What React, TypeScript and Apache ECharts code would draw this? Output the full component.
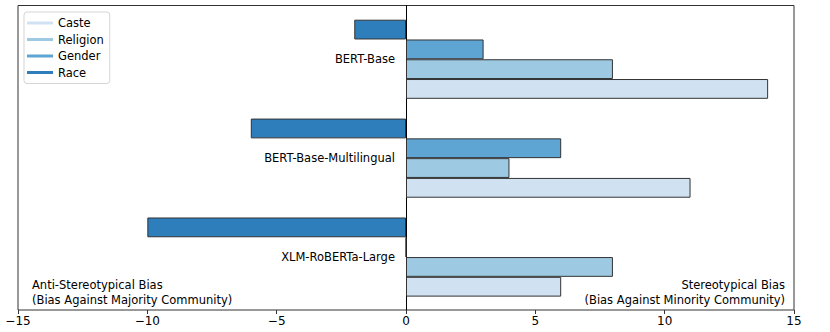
import React, { useEffect, useRef } from "react";
import * as echarts from "echarts";

const models = ["BERT-Base", "BERT-Base-Multilingual", "XLM-RoBERTa-Large"];
const seriesNames = ["Race", "Gender", "Religion", "Caste"];
const race = [-2, -6, -10];
const gender = [3, 6, 0];
const religion = [8, 4, 8];
const caste = [14, 11, 6];
const legendOrder = ["Caste", "Religion", "Gender", "Race"];
const seriesValues = [race, gender, religion, caste];
const seriesColors = ["#2f7ebc", "#5fa5d3", "#9dcae2", "#d0e1f2"];

const FONT = "DejaVu Sans";
const GRID_LEFT = 18;
const GRID_WIDTH = 776;
const ZERO_X = GRID_LEFT + GRID_WIDTH / 2;

export default function App() {
  const ref = useRef<HTMLDivElement>(null);
  useEffect(() => {
    document.body.style.margin = "0";
    const chart = echarts.init(ref.current!, null, { renderer: "svg" });
    const option: any = {
      animation: false,
      textStyle: { fontFamily: FONT },
      grid: [
        { left: GRID_LEFT, top: 5.5, width: GRID_WIDTH, height: 304.5, show: true, borderColor: "#333", borderWidth: 1, backgroundColor: "transparent", outerBoundsMode: "none", containLabel: false },
        { left: GRID_LEFT, top: 9.8, width: GRID_WIDTH, height: 296.7, outerBoundsMode: "none", containLabel: false },
      ],
      xAxis: [
        {
          type: "value", gridIndex: 0, min: -15, max: 15, interval: 5,
          axisLine: { show: false },
          axisTick: { show: true, length: 4, lineStyle: { color: "#333" } },
          axisLabel: { fontSize: 12, color: "#000", fontFamily: FONT, margin: 5, formatter: (v: number) => String(v).replace("-", "\u2212") },
          splitLine: { show: false },
        },
        { type: "value", gridIndex: 1, min: -15, max: 15, show: false, splitLine: { show: false } },
      ],
      yAxis: [
        {
          type: "value", gridIndex: 0, min: 0, max: 1,
          axisLine: { show: true, onZero: true, lineStyle: { color: "#000", width: 1 } },
          axisTick: { show: false }, axisLabel: { show: false }, splitLine: { show: false },
        },
        {
          type: "category", gridIndex: 1, data: models, inverse: true, position: "left",
          axisLine: { show: false, onZero: false },
          axisTick: { show: false },
          axisLabel: { fontSize: 11.5, color: "#000", fontFamily: FONT, margin: GRID_LEFT - (ZERO_X - 11), align: "right" },
        },
      ],
      legend: {
        data: legendOrder,
        orient: "vertical",
        left: 24, top: 12,
        icon: "rect",
        itemWidth: 26, itemHeight: 3, itemGap: 4.5,
        padding: [5, 6, 5, 3],
        borderColor: "#d5d5d5", borderWidth: 1, borderRadius: 3,
        backgroundColor: "#fff",
        itemStyle: { borderWidth: 0 },
        textStyle: { fontSize: 11.5, color: "#000", fontFamily: FONT, lineHeight: 12 },
      },
      series: seriesNames.map((name, i) => ({
        name, type: "bar", xAxisIndex: 1, yAxisIndex: 1,
        data: seriesValues[i],
        barGap: "0%", barCategoryGap: "20%",
        itemStyle: { color: seriesColors[i], borderColor: "#333", borderWidth: 1 },
      })),
      graphic: [
        { type: "text", x: 32, y: 292.5, style: { text: "Anti-Stereotypical Bias\n(Bias Against Majority Community)", font: `11.5px '${FONT}'`, fill: "#000", lineHeight: 15.5, align: "left", verticalAlign: "middle" } },
        { type: "text", x: 785, y: 292.5, style: { text: "Stereotypical Bias\n(Bias Against Minority Community)", font: `11.5px '${FONT}'`, fill: "#000", lineHeight: 15.5, align: "right", verticalAlign: "middle" } },
      ],
    };
    chart.setOption(option);
    return () => chart.dispose();
  }, []);
  return <div ref={ref} style={{ position: "absolute", left: 0, top: 0, width: 830, height: 332 }} />;
}
